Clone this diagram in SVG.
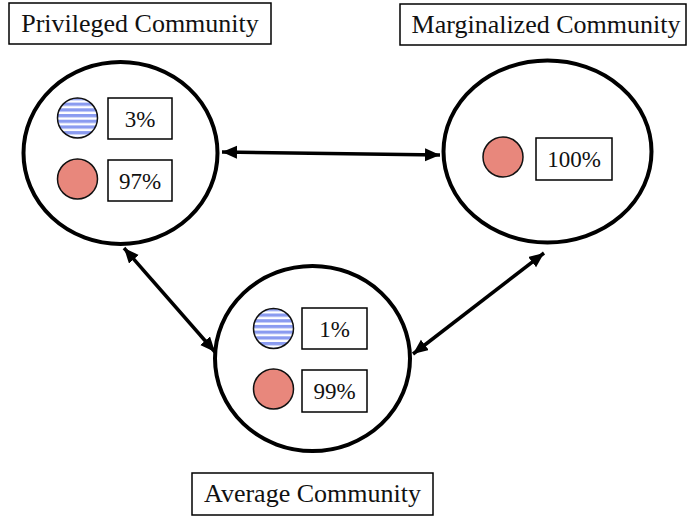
<svg xmlns="http://www.w3.org/2000/svg" width="689" height="517" viewBox="0 0 689 517">
<style>
.lbl{fill:#fff;stroke:#000;stroke-width:1.5}
.t{font-family:"Liberation Serif","DejaVu Serif",serif;font-size:26px;fill:#111;text-anchor:middle}
.p{font-family:"Liberation Serif","DejaVu Serif",serif;font-size:23px;fill:#111;text-anchor:middle}
.big{fill:#fff;stroke:#000;stroke-width:4}
.red{fill:#e8877c;stroke:#111;stroke-width:1.5}
.blue{fill:url(#stripes);stroke:#111;stroke-width:1.5}
.conn{stroke:#000;stroke-width:3.5;fill:none;marker-start:url(#ah);marker-end:url(#ah)}
</style>
<defs>
<pattern id="stripes" patternUnits="userSpaceOnUse" width="10" height="5.7">
<rect width="10" height="5.7" fill="#fff"/>
<rect width="10" height="3.3" fill="#8a9bf0"/>
</pattern>
<marker id="ah" markerUnits="userSpaceOnUse" markerWidth="18" markerHeight="14" refX="15" refY="6.5" orient="auto-start-reverse">
<path d="M0,0 L15,6.5 L0,13 Z" fill="#000"/>
</marker>
</defs>
<g id="connectors">
<line class="conn" x1="222" y1="152" x2="440" y2="155"/>
<line class="conn" x1="124" y1="248" x2="215" y2="352"/>
<line class="conn" x1="413" y1="354" x2="544" y2="253"/>
</g>
<g id="privileged">
<rect class="lbl" x="9" y="3" width="262" height="41"/>
<text class="t" x="140" y="32">Privileged Community</text>
<ellipse class="big" cx="120.5" cy="153" rx="97" ry="91"/>
<circle class="blue" cx="77.5" cy="118" r="20"/>
<circle class="red" cx="77.5" cy="179" r="20"/>
<rect class="lbl" x="108" y="98" width="64" height="41"/>
<text class="p" x="140" y="127">3%</text>
<rect class="lbl" x="108" y="160" width="64" height="41"/>
<text class="p" x="140" y="189">97%</text>
</g>
<g id="marginalized">
<rect class="lbl" x="400" y="4" width="286" height="41"/>
<text class="t" x="546" y="33">Marginalized Community</text>
<ellipse class="big" cx="547.5" cy="151.5" rx="104" ry="91"/>
<circle class="red" cx="503" cy="157" r="20"/>
<rect class="lbl" x="536" y="138" width="76" height="42"/>
<text class="p" x="574" y="167">100%</text>
</g>
<g id="average">
<rect class="lbl" x="192" y="473" width="241" height="42"/>
<text class="t" x="312.5" y="502">Average Community</text>
<ellipse class="big" cx="312.5" cy="358.5" rx="97.5" ry="92.5"/>
<circle class="blue" cx="273.5" cy="328.5" r="20"/>
<circle class="red" cx="273.5" cy="389" r="20"/>
<rect class="lbl" x="302" y="308" width="65" height="41"/>
<text class="p" x="334.5" y="337">1%</text>
<rect class="lbl" x="302" y="370" width="65" height="42"/>
<text class="p" x="334.5" y="399">99%</text>
</g>
</svg>
